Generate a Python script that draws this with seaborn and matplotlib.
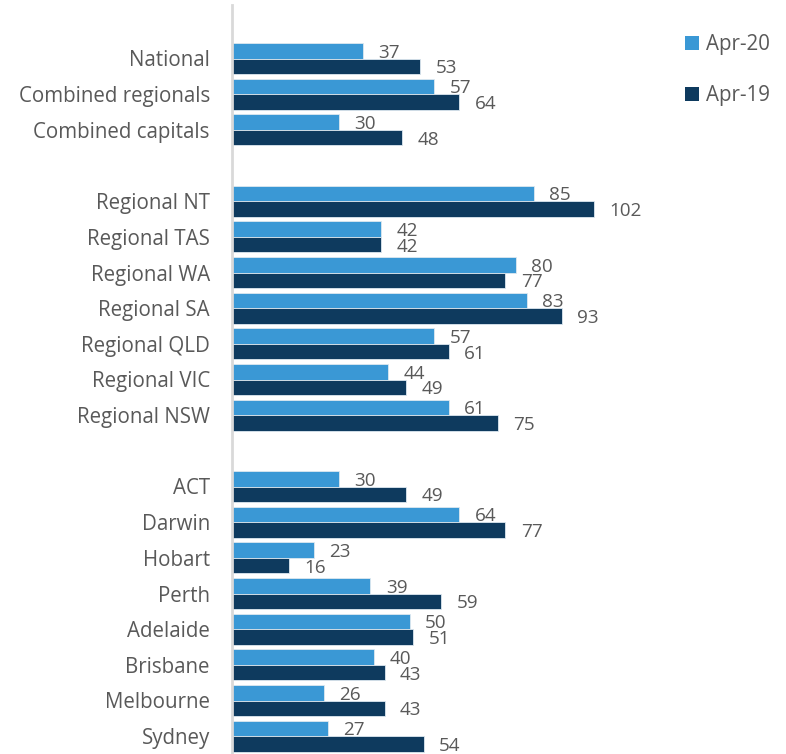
import matplotlib
matplotlib.use("Agg")
import matplotlib.pyplot as plt
import pandas as pd
import seaborn as sns
from matplotlib.patches import Patch

regions = [
    "National", "Combined regionals", "Combined capitals",
    "Regional NT", "Regional TAS", "Regional WA", "Regional SA",
    "Regional QLD", "Regional VIC", "Regional NSW",
    "ACT", "Darwin", "Hobart", "Perth", "Adelaide", "Brisbane",
    "Melbourne", "Sydney",
]
apr20 = [37, 57, 30, 85, 42, 80, 83, 57, 44, 61, 30, 64, 23, 39, 50, 40, 26, 27]
apr19 = [53, 64, 48, 102, 42, 77, 93, 61, 49, 75, 49, 77, 16, 59, 51, 43, 43, 54]
series = ["Apr-20", "Apr-19"]
colors = ["#3A98D5", "#0E3A5E"]

# empty slots between the groups
order = (["_gap0"] + regions[:3] + ["_gap1"] + regions[3:10]
         + ["_gap2"] + regions[10:])

df = pd.DataFrame({
    "Region": regions * 2,
    "Value": apr20 + apr19,
    "Period": [series[0]] * len(regions) + [series[1]] * len(regions),
})

sns.set_theme(style="white")
plt.rcParams["font.family"] = ["Open Sans", "DejaVu Sans"]

fig = plt.figure(figsize=(7.86, 7.54), dpi=100)
ax = fig.add_axes([232 / 786, 0.0, 426 / 786, 1 - 5 / 754])

sns.barplot(
    data=df, x="Value", y="Region", hue="Period",
    order=order, hue_order=series, palette=colors, saturation=1,
    orient="h", width=0.86, edgecolor="#DDE8F0", linewidth=0.6,
    legend=False, ax=ax,
)

for container in ax.containers:
    labels = ax.bar_label(container, fmt="%d", padding=11, fontsize=13.6,
                          color="#595959")
    for t in labels:
        t.set_va("center_baseline")

ax.set_xlim(0, 120)
ax.set_xlabel("")
ax.set_ylabel("")
ax.set_xticks([])
ax.set_yticks(range(len(order)))
ax.set_yticklabels(["" if o.startswith("_gap") else o for o in order],
                   fontsize=14.8, color="#595959")
ax.tick_params(axis="y", length=0, pad=16)
for side in ["top", "right", "bottom"]:
    ax.spines[side].set_visible(False)
ax.spines["left"].set_color("#D9D9D9")
ax.spines["left"].set_linewidth(2)

handles = [Patch(facecolor=c, edgecolor="none") for c in colors]
fig.legend(handles, series, loc="upper left", bbox_to_anchor=(677 / 786, 1 - 26 / 754),
           frameon=False, fontsize=14.8, labelcolor="#595959",
           handlelength=0.65, handleheight=0.65, handletextpad=0.35,
           labelspacing=1.45, borderaxespad=0)

fig.savefig("out.png", dpi=100)
